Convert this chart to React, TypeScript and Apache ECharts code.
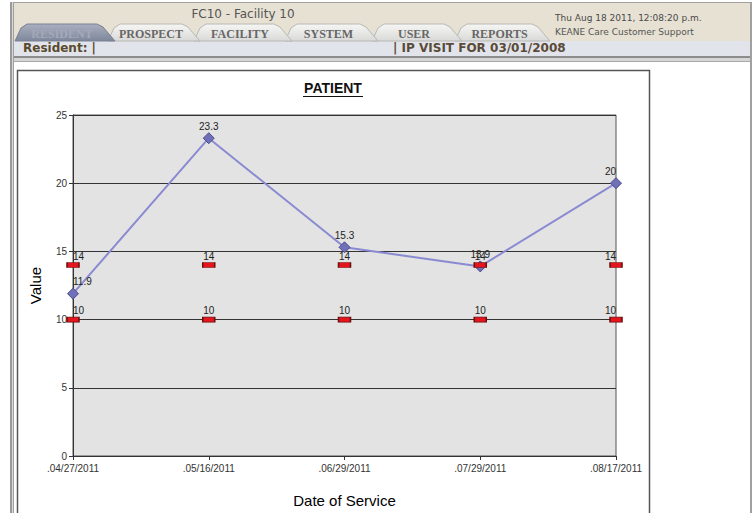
import React, { useEffect, useRef } from "react";
import * as echarts from "echarts";

const categories = [".04/27/2011", ".05/16/2011", ".06/29/2011", ".07/29/2011", ".08/17/2011"];
const patientValues = [11.9, 23.3, 15.3, 13.9, 20];
const upperValues = [14, 14, 14, 14, 14];
const lowerValues = [10, 10, 10, 10, 10];
const yMin = 0;
const yMax = 25;
const yInterval = 5;
const tabLabels = ["RESIDENT", "PROSPECT", "FACILITY", "SYSTEM", "USER", "REPORTS"];
const headerTitle = "FC10 - Facility 10";
const dateText = "Thu Aug 18 2011, 12:08:20 p.m.";
const supportText = "KEANE Care Customer Support";
const residentText = "Resident: |";
const visitText = "| IP VISIT FOR 03/01/2008";
const chartTitle = "PATIENT";

const tabBounds = [
  [15, 115],
  [108, 200],
  [194, 292],
  [285, 378],
  [372, 462],
  [455, 550],
];

function tabShape(x0: number, x1: number, active: boolean, label: string) {
  const top = 24;
  const bottom = 41;
  const poly = {
    type: "polygon",
    z: -5,
    shape: {
      points: [
        [x0, bottom],
        [x0 + 6, top + 4],
        [x0 + 12, top],
        [x1 - 18, top],
        [x1 - 12, top + 3],
        [x1, bottom],
      ],
    },
    style: {
      fill: active
        ? new echarts.graphic.LinearGradient(0, 0, 0, 1, [
            { offset: 0, color: "#aab0c0" },
            { offset: 1, color: "#7e869b" },
          ])
        : new echarts.graphic.LinearGradient(0, 0, 0, 1, [
            { offset: 0, color: "#f6f6f4" },
            { offset: 1, color: "#d9d9d7" },
          ]),
      stroke: active ? "#7a8194" : "#b8b8b4",
      lineWidth: 1,
    },
  };
  const txt = {
    type: "text",
    z: 5,
    x: (x0 + x1) / 2 - 3,
    y: 34,
    style: {
      text: label,
      fill: active ? "#a3a9b8" : "#666666",
      font: "bold 12px 'Liberation Serif', serif",
      align: "center",
      verticalAlign: "middle",
    },
  };
  return [poly, txt];
}

export default function App() {
  const ref = useRef<HTMLDivElement>(null);
  useEffect(() => {
    if (!ref.current) return;
    const chart = echarts.init(ref.current, undefined, { renderer: "svg", width: 754, height: 513 });
    const n = categories.length;
    const labelAlign = (i: number) => (i === 0 ? "left" : i === n - 1 ? "right" : "center");
    const mk = (vals: number[]) => vals.map((v, i) => ({ value: v, label: { align: labelAlign(i) } }));

    const tabs: any[] = [];
    for (let i = tabLabels.length - 1; i >= 1; i--) {
      tabs.push(...tabShape(tabBounds[i][0], tabBounds[i][1], false, tabLabels[i]));
    }
    tabs.push(...tabShape(tabBounds[0][0], tabBounds[0][1], true, tabLabels[0]));

    const graphic: any[] = [
      { type: "rect", z: -10, shape: { x: 10, y: 2, width: 742, height: 511 }, style: { fill: "#ffffff" } },
      { type: "rect", z: -9, shape: { x: 11, y: 2, width: 740, height: 39 }, style: { fill: "#e6e1d3" } },
      { type: "rect", z: -9, shape: { x: 11, y: 41, width: 740, height: 15 }, style: { fill: "#e1e4ea" } },
      { type: "rect", z: -9, shape: { x: 11, y: 56, width: 740, height: 2 }, style: { fill: "#8c8c8c" } },
      { type: "rect", z: -9, shape: { x: 11, y: 58, width: 740, height: 3 }, style: { fill: "#d6d6d6" } },
      { type: "rect", z: -9, shape: { x: 11, y: 61, width: 740, height: 1 }, style: { fill: "#a8a8a8" } },
      { type: "rect", z: -9, shape: { x: 11, y: 2, width: 740, height: 1 }, style: { fill: "#a0a0a0" } },
      { type: "rect", z: -8, shape: { x: 10, y: 2, width: 2, height: 511 }, style: { fill: "#9a9a9a" } },
      { type: "rect", z: -8, shape: { x: 12, y: 2, width: 1, height: 511 }, style: { fill: "#d8d8d8" } },
      { type: "rect", z: -8, shape: { x: 13, y: 2, width: 1, height: 511 }, style: { fill: "#a0a0a0" } },
      { type: "rect", z: -8, shape: { x: 750, y: 2, width: 2, height: 511 }, style: { fill: "#a0a0a0" } },
      ...tabs,
      {
        type: "text", z: 5, x: 243, y: 14,
        style: { text: headerTitle, fill: "#555555", font: "12px 'DejaVu Sans', sans-serif", align: "center", verticalAlign: "middle" },
      },
      {
        type: "text", z: 5, x: 555, y: 18,
        style: { text: dateText, fill: "#4a4a4a", font: "9px 'DejaVu Sans', sans-serif", align: "left", verticalAlign: "middle" },
      },
      {
        type: "text", z: 5, x: 555, y: 32,
        style: { text: supportText, fill: "#555555", font: "9px 'DejaVu Sans', sans-serif", align: "left", verticalAlign: "middle" },
      },
      {
        type: "text", z: 5, x: 23, y: 48,
        style: { text: residentText, fill: "#5a4a2e", font: "bold 12px 'DejaVu Sans', sans-serif", align: "left", verticalAlign: "middle" },
      },
      {
        type: "text", z: 5, x: 393, y: 48,
        style: { text: visitText, fill: "#5a4a38", font: "bold 12px 'DejaVu Sans', sans-serif", align: "left", verticalAlign: "middle" },
      },
      { type: "rect", z: -7, shape: { x: 17.5, y: 70.5, width: 632, height: 460 }, style: { fill: "#ffffff", stroke: "#555555", lineWidth: 1.5 } },
      {
        type: "text", z: 5, x: 333, y: 88,
        style: { text: chartTitle, fill: "#111111", font: "bold 14px Arial, 'Liberation Sans', sans-serif", align: "center", verticalAlign: "middle" },
      },
      { type: "line", z: 5, shape: { x1: 303, y1: 96.5, x2: 363, y2: 96.5 }, style: { stroke: "#111111", lineWidth: 1.2 } },
    ];

    chart.setOption({
      animation: false,
      graphic,
      grid: {
        left: 73, width: 543, top: 115, height: 348,
        show: true, backgroundColor: "#e3e3e3", borderColor: "#555555", borderWidth: 1, z: 0,
      },
      xAxis: {
        type: "category",
        data: categories,
        boundaryGap: false,
        name: "Date of Service",
        nameLocation: "middle",
        nameGap: 37,
        nameTextStyle: { fontFamily: "Arial, 'Liberation Sans', sans-serif", fontSize: 15, color: "#000000" },
        axisLine: { lineStyle: { color: "#333333", width: 1 } },
        axisTick: { show: true, length: 4, alignWithLabel: true, lineStyle: { color: "#333333" } },
        axisLabel: { fontFamily: "Arial, 'Liberation Sans', sans-serif", fontSize: 10, color: "#333333", margin: 7 },
        splitLine: { show: false },
      },
      yAxis: {
        type: "value",
        min: yMin, max: yMax, interval: yInterval,
        name: "Value",
        nameLocation: "middle",
        nameGap: 30,
        nameTextStyle: { fontFamily: "Arial, 'Liberation Sans', sans-serif", fontSize: 15, color: "#000000" },
        axisLine: { show: true, lineStyle: { color: "#333333", width: 1 } },
        axisTick: { show: true, length: 4, lineStyle: { color: "#333333" } },
        axisLabel: { fontFamily: "Arial, 'Liberation Sans', sans-serif", fontSize: 10, color: "#333333", margin: 6 },
        splitLine: { show: true, lineStyle: { color: "#333333", width: 1 } },
      },
      series: [
        {
          name: "Patient",
          type: "line",
          data: mk(patientValues),
          lineStyle: { color: "#8a8ad2", width: 2 },
          symbol: "diamond",
          symbolSize: 11,
          itemStyle: { color: "#7070b8", borderColor: "#4c4c8c", borderWidth: 1 },
          label: { show: true, position: "top", distance: 1, fontFamily: "Arial, 'Liberation Sans', sans-serif", fontSize: 10, color: "#222222" },
          z: 3,
        },
        {
          name: "Upper",
          type: "line",
          data: mk(upperValues),
          lineStyle: { width: 0, opacity: 0 },
          symbol: "rect",
          symbolSize: [12, 5],
          itemStyle: { color: "#e4151c", borderColor: "#6a1010", borderWidth: 1 },
          label: { show: true, position: "top", distance: 1, fontFamily: "Arial, 'Liberation Sans', sans-serif", fontSize: 10, color: "#222222" },
          z: 4,
        },
        {
          name: "Lower",
          type: "line",
          data: mk(lowerValues),
          lineStyle: { width: 0, opacity: 0 },
          symbol: "rect",
          symbolSize: [12, 5],
          itemStyle: { color: "#e4151c", borderColor: "#6a1010", borderWidth: 1 },
          label: { show: true, position: "top", distance: 1, fontFamily: "Arial, 'Liberation Sans', sans-serif", fontSize: 10, color: "#222222" },
          z: 4,
        },
      ],
    });
    return () => chart.dispose();
  }, []);
  return (
    <div
      ref={ref}
      style={{ position: "fixed", left: 0, top: 0, width: 754, height: 513, background: "#ffffff" }}
    />
  );
}
